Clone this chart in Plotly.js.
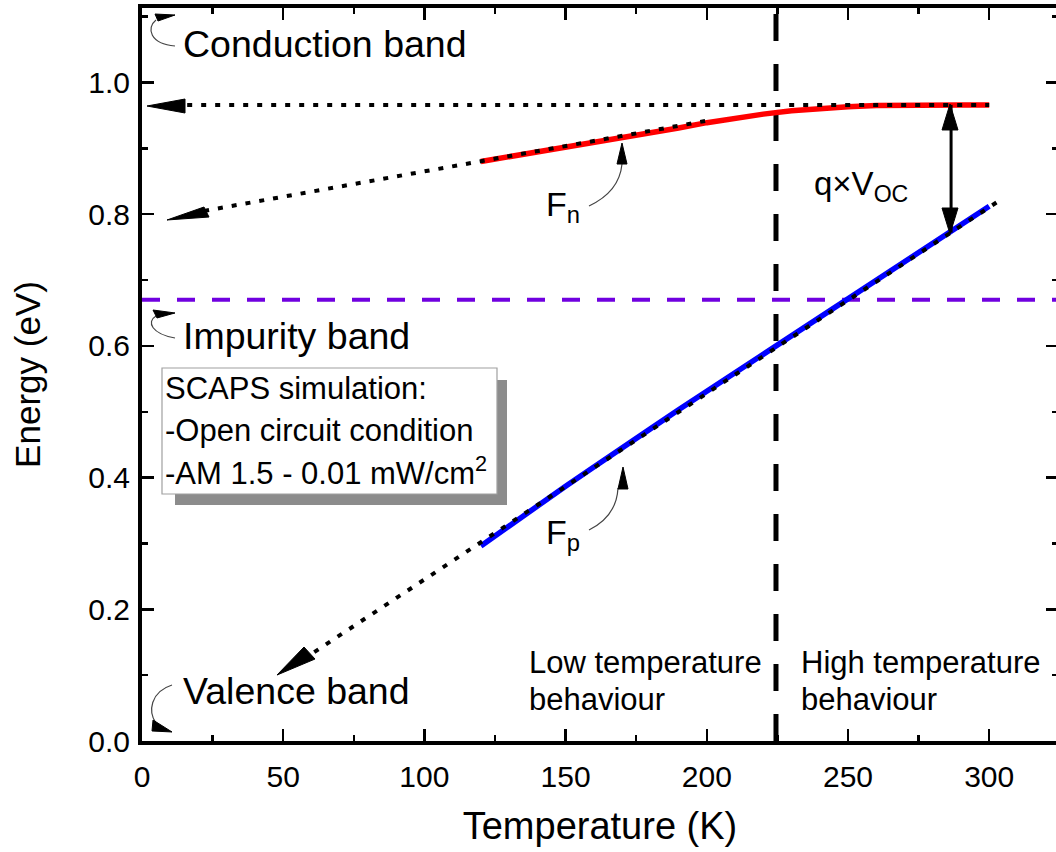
<!DOCTYPE html>
<html>
<head>
<meta charset="utf-8">
<script src="https://cdn.plot.ly/plotly-3.0.1.min.js"></script>
<style>
html,body{margin:0;padding:0;overflow:hidden;background:#fff;}
#chart{width:1062px;height:852px;}
</style>
</head>
<body>
<div id="chart"></div>
<script>
// ---- Data ----
const T_fn = [120,130,140,150,160,170,180,190,200,210,220,230,240,250,260,270,280,290,300];
const E_fn = [0.880,0.887,0.894,0.902,0.909,0.917,0.924,0.931,0.939,0.946,0.952,0.957,0.961,0.963,0.965,0.966,0.966,0.966,0.966];
const T_fp = [120,130,140,150,160,170,180,190,200,210,220,230,240,250,260,270,280,290,300];
const E_fp = [0.296,0.327,0.357,0.387,0.416,0.446,0.474,0.503,0.531,0.559,0.587,0.614,0.642,0.670,0.698,0.727,0.755,0.784,0.812];
const T_fnExt = [22, 200];     const E_fnExt = [0.805, 0.942];   // low-T extrapolation of Fn
const T_cb = [16, 300];        const E_cb = [0.966, 0.966];      // Fn at high T, extended to left
const T_fpExt = [61, 303];     const E_fpExt = [0.135, 0.819];   // extrapolation of Fp
const T_imp = [0, 330];        const E_imp = [0.670, 0.670];     // impurity band
const T_div = [224.5, 224.5];  const E_div = [0, 1.2];           // low/high temperature divide
const T_voc = [286.5, 286.5];  const E_voc = [0.966, 0.772];     // q x Voc
const xTickVals = [0,50,100,150,200,250,300];
const yTickVals = [0,0.2,0.4,0.6,0.8,1.0];

// ---- Layout geometry ----
const W = 1062, H = 852;
const M = {l:142, r:4, t:8, b:111};
const PW = W - M.l - M.r, PH = H - M.t - M.b;
const KX = 2.824, KY = 658.5;
const XMAX = PW / KX, YMAX = PH / KY;
const B = H - M.b;
const dx = px => (px - M.l) / KX;
const dy = py => (B - py) / KY;
const P = (px, py) => dx(px).toFixed(3) + ',' + dy(py).toFixed(4);

const FONT = 'Liberation Sans, Arial, sans-serif';

const traces = [
  {x:T_imp, y:E_imp, mode:'lines', line:{color:'#7000e0', width:4, dash:'18px,17px'}, hoverinfo:'skip'},
  {x:T_div, y:E_div, mode:'lines', line:{color:'#000', width:5, dash:'27px,23px'}, hoverinfo:'skip'},
  {x:T_fn, y:E_fn, mode:'lines', line:{color:'#ff0000', width:5.5}, name:'Fn'},
  {x:T_fp, y:E_fp, mode:'lines', line:{color:'#0000ff', width:5.5}, name:'Fp'},
  {x:T_fnExt, y:E_fnExt, mode:'lines', line:{color:'#000', width:4, dash:'5px,9px'}, hoverinfo:'skip'},
  {x:T_cb, y:E_cb, mode:'lines', line:{color:'#000', width:4, dash:'5px,9px'}, hoverinfo:'skip'},
  {x:T_fpExt, y:E_fpExt, mode:'lines', line:{color:'#000', width:4, dash:'5px,9px'}, hoverinfo:'skip'},
  {x:T_voc, y:E_voc, mode:'lines', line:{color:'#000', width:3}, hoverinfo:'skip'}
];

function tri(a, b, c) {
  return {type:'path', xref:'x', yref:'y', path:'M'+P(a[0],a[1])+' L'+P(b[0],b[1])+' L'+P(c[0],c[1])+' Z',
          fillcolor:'#000', line:{color:'#000', width:1}, layer:'above'};
}
function curve(p0, c1, c2, p1) {
  return {type:'path', xref:'x', yref:'y',
          path:'M'+P(p0[0],p0[1])+' C'+P(c1[0],c1[1])+' '+P(c2[0],c2[1])+' '+P(p1[0],p1[1]),
          line:{color:'#444', width:1.2}, layer:'above'};
}

const shapes = [
  // legend-like box with shadow
  {type:'rect', xref:'x', yref:'y', x0:dx(175), x1:dx(507), y0:dy(505), y1:dy(380), fillcolor:'#8c8c8c', line:{width:0}, layer:'above'},
  {type:'rect', xref:'x', yref:'y', x0:dx(162), x1:dx(497), y0:dy(494), y1:dy(368), fillcolor:'#ffffff', line:{color:'#a0a0a0', width:1.2}, layer:'above'},
  // arrowheads on extrapolated lines
  tri([147,106],[185,99],[185,113]),
  tri([167,220],[204,207],[209,217]),
  tri([277,675],[304,647],[315,659]),
  // q x Voc double arrow heads
  tri([950,104],[942,130],[958,130]),
  tri([950,234],[942,208],[958,208]),
  // curved label arrows
  curve([175,46],[150,44],[146,28],[156,20]),
  tri([155,14],[175,15],[158,21]),
  curve([175,338],[152,334],[146,322],[156,316]),
  tri([153,310],[175,313],[157,318]),
  curve([172,685],[150,692],[148,712],[156,723]),
  tri([153,720],[152,731],[172,732]),
  curve([589,206],[606,198],[620,185],[622,164]),
  tri([617,164],[627,164],[622,143]),
  curve([589,530],[605,522],[617,508],[618,488]),
  tri([618,489],[628,489],[623,467])
];

function txt(text, px, py, size, anchor) {
  return {text:text, x:dx(px), y:dy(py), xref:'x', yref:'y', showarrow:false,
          xanchor:anchor || 'left', yanchor:'middle', font:{family:FONT, size:size, color:'#000'}};
}

const annotations = [
  txt('Conduction band', 181, 44, 37.5),
  txt('Impurity band', 181, 336, 37.5),
  txt('Valence band', 181, 691, 37.5),
  txt('SCAPS simulation:', 163, 388, 31),
  txt('-Open circuit condition', 163, 430, 31),
  txt('-AM 1.5 - 0.01 mW/cm<sup>2</sup>', 163, 471, 31),
  txt('F<sub>n</sub>', 544, 206, 34),
  txt('F<sub>p</sub>', 544, 534, 34),
  txt('q×V<sub>OC</sub>', 812, 186, 33),
  txt('Low temperature', 527, 662, 31),
  txt('behaviour', 527, 699, 31),
  txt('High temperature', 799, 662, 31),
  txt('behaviour', 799, 699, 31)
];

const axisCommon = {
  showline:true, linecolor:'#000', linewidth:4, mirror:'ticks',
  ticks:'inside', ticklen:12, tickwidth:2.5, tickcolor:'#000',
  showgrid:false, zeroline:false,
  tickfont:{family:FONT, size:30, color:'#000'}
};

const layout = {
  width:W, height:H, margin:M, showlegend:false,
  paper_bgcolor:'#fff', plot_bgcolor:'#fff',
  font:{family:FONT, color:'#000'},
  xaxis:Object.assign({}, axisCommon, {
    range:[0, XMAX], tickvals:xTickVals, ticktext:xTickVals.map(String),
    minor:{dtick:25, tick0:0, ticks:'inside', ticklen:6, tickwidth:2.5, tickcolor:'#000', showgrid:false},
    ticklabelstandoff:6,
    title:{text:'Temperature (K)', font:{family:FONT, size:38, color:'#000'}, standoff:21}
  }),
  yaxis:Object.assign({}, axisCommon, {
    range:[0, YMAX], tickvals:yTickVals, ticktext:yTickVals.map(v => v.toFixed(1)),
    minor:{dtick:0.1, tick0:0, ticks:'inside', ticklen:6, tickwidth:2.5, tickcolor:'#000', showgrid:false},
    ticklabelstandoff:2,
    title:{text:'Energy (eV)', font:{family:FONT, size:35, color:'#000'}, standoff:38}
  }),
  shapes:shapes, annotations:annotations
};

Plotly.newPlot('chart', traces, layout, {staticPlot:true, displayModeBar:false});
</script>
</body>
</html>
